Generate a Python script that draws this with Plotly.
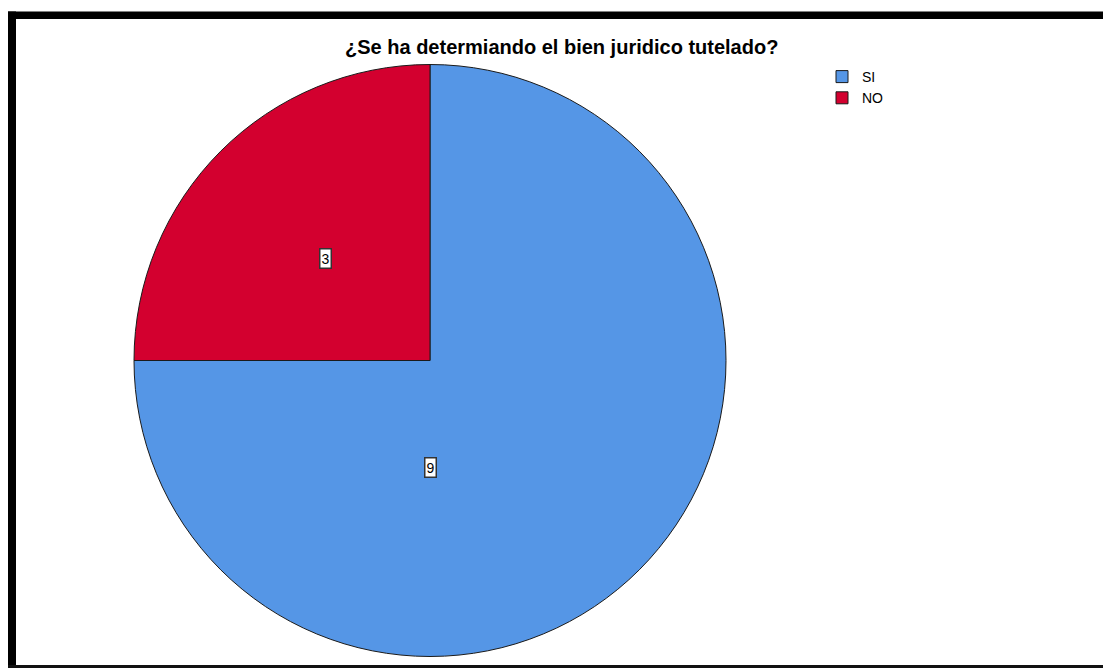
import plotly.graph_objects as go

labels = ["SI", "NO"]
values = [9, 3]
colors = ["#5596E6", "#D3002F"]
title_text = "¿Se ha determiando el bien juridico tutelado?"

W, H = 1103, 668

def px_x(x):
    return x / W

def px_y(y):
    return 1 - y / H

fig = go.Figure()
fig.add_trace(go.Pie(
    labels=labels,
    values=values,
    sort=False,
    direction="clockwise",
    rotation=0,
    marker=dict(colors=colors, line=dict(color="#1a1a1a", width=1)),
    textinfo="none",
    hoverinfo="label+value",
    domain=dict(x=[px_x(134), px_x(726)], y=[px_y(658), px_y(63)]),
))

# Value labels in white boxes
label_pos = {"NO": (325, 258), "SI": (430, 467)}
annotations = []
for lab, val in zip(labels, values):
    x, y = label_pos[lab]
    annotations.append(dict(
        x=px_x(x), y=px_y(y), xref="paper", yref="paper",
        xanchor="center", yanchor="middle",
        text=str(val), showarrow=False,
        font=dict(family="Arial, Liberation Sans", size=14, color="#000000"),
        bgcolor="#ffffff", bordercolor="#333333", borderwidth=1.5, borderpad=1,
    ))

annotations.append(dict(
    x=px_x(561), y=px_y(47), xref="paper", yref="paper",
    xanchor="center", yanchor="middle",
    text="<b>" + title_text + "</b>", showarrow=False,
    font=dict(family="Arial, Liberation Sans", size=20, color="#000000"),
))

shapes = [
    dict(type="rect", xref="paper", yref="paper", x0=px_x(8), x1=1.0, y0=px_y(19), y1=px_y(11.5),
         fillcolor="#000000", line=dict(width=0)),
    dict(type="rect", xref="paper", yref="paper", x0=px_x(8), x1=px_x(16), y0=0, y1=px_y(11.5),
         fillcolor="#000000", line=dict(width=0)),
    dict(type="rect", xref="paper", yref="paper", x0=px_x(8), x1=1.0, y0=0, y1=px_y(665),
         fillcolor="#111111", line=dict(width=0)),
]

fig.update_layout(
    width=W, height=H,
    margin=dict(l=0, r=0, t=0, b=0),
    paper_bgcolor="#ffffff",
    plot_bgcolor="#ffffff",
    showlegend=True,
    legend=dict(
        x=px_x(822), y=px_y(61), xanchor="left", yanchor="top",
        font=dict(family="Arial, Liberation Sans", size=14, color="#000000"),
        bgcolor="rgba(0,0,0,0)", itemwidth=30, tracegroupgap=0,
    ),
    annotations=annotations,
    shapes=shapes,
)

fig.write_html("out.html")
